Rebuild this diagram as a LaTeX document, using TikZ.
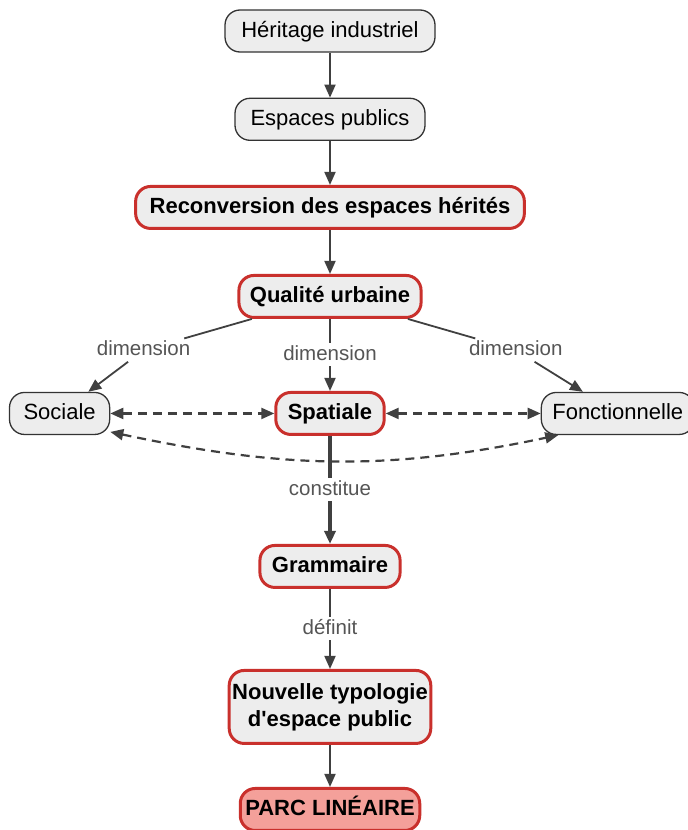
\documentclass[tikz,border=0pt]{standalone}
\usepackage{fontspec}
\setmainfont{Liberation Sans}
\usepackage{tikz}
\usetikzlibrary{arrows.meta, positioning}
\definecolor{cmapfill}{HTML}{EDEDED}
\definecolor{cmapred}{HTML}{C9302C}
\definecolor{cmappink}{HTML}{F4A09A}
\definecolor{cmapline}{HTML}{404040}
\definecolor{cmaplabel}{HTML}{555555}

\begin{document}
\begin{tikzpicture}[
    node distance=44pt,
    concept/.style={rectangle, draw=black!80, fill=cmapfill, line width=1.3pt, rounded corners=15pt, minimum height=42pt, inner xsep=14pt, text height=17pt, text depth=5pt, align=center, font=\fontsize{22}{27}\selectfont},
    keyconcept/.style={concept, draw=cmapred, line width=3pt, font=\fontsize{22}{27}\selectfont\bfseries},
    target/.style={keyconcept, fill=cmappink},
    arrow/.style={-{Triangle[length=13pt, width=11pt]}, line width=1.8pt, cmapline},
    link/.style={line width=1.8pt, cmapline},
    dasharrow/.style={{Triangle[length=13pt, width=11pt]}-{Triangle[length=13pt, width=11pt]}, line width=2.2pt, cmapline, dash pattern=on 9pt off 6pt},
    linklabel/.style={fill=white, text=cmaplabel, inner sep=2pt, text height=15pt, text depth=4pt, font=\fontsize{20.5}{24}\selectfont}
]
\useasboundingbox (0,0) rectangle (688pt,-830pt);

\node[concept, minimum width=210pt] (heritage) at (330pt,-31pt) {Héritage industriel};
\node[concept, minimum width=190pt, below=45pt of heritage] (espaces) {Espaces publics};
\node[keyconcept, minimum width=387pt, below=of espaces] (reconversion) {Reconversion des espaces hérités};
\node[keyconcept, inner xsep=11pt, below=of reconversion] (qualite) {Qualité urbaine};
\node[keyconcept, inner xsep=12pt, below=72pt of qualite] (spatiale) {Spatiale};
\node[concept, left=164pt of spatiale] (sociale) {Sociale};
\node[concept, inner xsep=11pt, right=155pt of spatiale] (fonction) {Fonctionnelle};
\node[keyconcept, inner xsep=12pt, below=108pt of spatiale] (grammaire) {Grammaire};
\node[keyconcept, below=80pt of grammaire, inner xsep=3pt, minimum height=73pt, text height=44pt] (typologie) {Nouvelle typologie\\d\textquotesingle espace public};
\node[target, below=42pt of typologie, inner xsep=5pt] (parc) {PARC LINÉAIRE};

\node[linklabel, above=30pt of sociale, xshift=84pt] (dimsociale) {dimension};
\node[linklabel, above=30pt of fonction, xshift=-102pt] (dimfonction) {dimension};

\draw[arrow] (heritage) -- (espaces);
\draw[arrow] (espaces) -- (reconversion);
\draw[arrow] (reconversion) -- (qualite);
\draw[link] (qualite) -- (dimsociale);
\draw[arrow] (dimsociale) -- (sociale);
\draw[arrow] (qualite) -- node[linklabel] {dimension} (spatiale);
\draw[link] (qualite) -- (dimfonction);
\draw[arrow] (dimfonction) -- (fonction);
\draw[dasharrow] (sociale) -- (spatiale);
\draw[dasharrow] (spatiale) -- (fonction);
\draw[dasharrow] (sociale.-20) to[out=-12, in=192] (fonction.200);
\draw[arrow, line width=3.5pt] (spatiale) -- node[linklabel] {constitue} (grammaire);
\draw[arrow] (grammaire) -- node[linklabel] {définit} (typologie);
\draw[arrow] (typologie) -- (parc);

\end{tikzpicture}
\end{document}
